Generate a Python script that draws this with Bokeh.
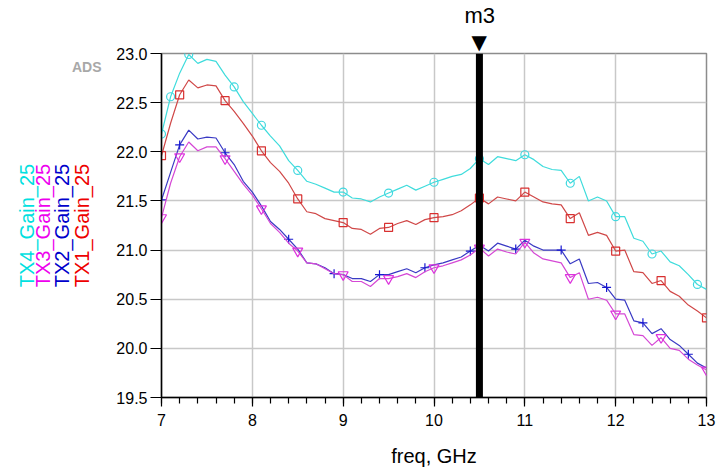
import math
from bokeh.plotting import figure
from bokeh.models import Span, Title, FixedTicker, Range1d, LinearAxis
from bokeh.embed import file_html
from bokeh.resources import INLINE

# ---------------- data ----------------
freq = [7.0, 7.1, 7.2, 7.3, 7.4, 7.5, 7.6, 7.7, 7.8, 7.9,
        8.0, 8.1, 8.2, 8.3, 8.4, 8.5, 8.6, 8.7, 8.8, 8.9,
        9.0, 9.1, 9.2, 9.3, 9.4, 9.5, 9.6, 9.7, 9.8, 9.9,
        10.0, 10.1, 10.2, 10.3, 10.4, 10.5, 10.6, 10.7, 10.8, 10.9,
        11.0, 11.1, 11.2, 11.3, 11.4, 11.5, 11.6, 11.7, 11.8, 11.9,
        12.0, 12.1, 12.2, 12.3, 12.4, 12.5, 12.6, 12.7, 12.8, 12.9, 13.0]

tx4_gain = [22.18, 22.56, 22.80, 22.99, 22.90, 22.94, 22.92, 22.78, 22.66, 22.51,
            22.39, 22.27, 22.16, 22.06, 21.91, 21.81, 21.70, 21.67, 21.63, 21.59,
            21.59, 21.53, 21.52, 21.49, 21.54, 21.58, 21.62, 21.66, 21.61, 21.65,
            21.69, 21.72, 21.75, 21.77, 21.83, 21.93, 21.87, 21.95, 21.93, 21.91,
            21.97, 21.92, 21.85, 21.82, 21.81, 21.68, 21.75, 21.50, 21.54, 21.50,
            21.34, 21.34, 21.12, 21.09, 20.96, 20.99, 20.88, 20.84, 20.75, 20.65, 20.60]

tx1_gain = [21.96, 22.29, 22.58, 22.73, 22.65, 22.68, 22.67, 22.52, 22.41, 22.29,
            22.16, 22.01, 21.89, 21.80, 21.68, 21.52, 21.39, 21.37, 21.32, 21.30,
            21.28, 21.22, 21.21, 21.16, 21.22, 21.23, 21.27, 21.30, 21.26, 21.31,
            21.33, 21.34, 21.36, 21.40, 21.46, 21.53, 21.47, 21.54, 21.52, 21.50,
            21.59, 21.54, 21.49, 21.47, 21.46, 21.32, 21.38, 21.15, 21.18, 21.15,
            20.99, 21.00, 20.78, 20.77, 20.66, 20.69, 20.58, 20.53, 20.44, 20.38, 20.31]

tx2_gain = [21.51, 21.79, 22.07, 22.22, 22.13, 22.15, 22.14, 21.99, 21.87, 21.70,
            21.59, 21.45, 21.29, 21.21, 21.11, 21.01, 20.87, 20.86, 20.82, 20.76,
            20.75, 20.71, 20.71, 20.68, 20.75, 20.75, 20.78, 20.81, 20.77, 20.82,
            20.85, 20.87, 20.90, 20.93, 20.99, 21.05, 20.99, 21.07, 21.04, 21.01,
            21.10, 21.04, 21.00, 21.00, 21.00, 20.86, 20.91, 20.66, 20.67, 20.62,
            20.50, 20.49, 20.28, 20.26, 20.15, 20.20, 20.09, 20.03, 19.94, 19.85, 19.80]

tx3_gain = [21.33, 21.68, 21.95, 22.10, 22.01, 22.05, 22.05, 21.93, 21.80, 21.67,
            21.56, 21.42, 21.27, 21.18, 21.07, 20.99, 20.87, 20.86, 20.81, 20.76,
            20.75, 20.68, 20.68, 20.63, 20.71, 20.71, 20.73, 20.76, 20.72, 20.78,
            20.82, 20.84, 20.87, 20.90, 20.95, 21.02, 20.94, 21.01, 20.98, 20.96,
            21.08, 20.97, 20.91, 20.89, 20.87, 20.72, 20.77, 20.50, 20.52, 20.49,
            20.35, 20.35, 20.14, 20.13, 20.03, 20.11, 20.00, 19.98, 19.89, 19.83, 19.78]

tx4_marks = [7.0, 7.1, 7.3, 7.8, 8.1, 8.5, 9.0, 9.5, 10.0, 10.5, 11.0, 11.5, 12.0, 12.4, 12.9]
tx1_marks = [7.0, 7.2, 7.7, 8.1, 8.5, 9.0, 9.5, 10.0, 10.5, 11.0, 11.5, 12.0, 12.5, 13.0]
tx2_marks = [7.0, 7.2, 7.7, 8.4, 8.9, 9.4, 9.9, 10.4, 10.9, 11.4, 11.9, 12.3, 12.8]
tx3_marks = [7.0, 7.2, 7.7, 8.1, 8.5, 9.0, 9.5, 10.0, 10.5, 11.0, 11.5, 12.0, 12.5, 13.0]

series_names = ["TX4_Gain_25", "TX3_Gain_25", "TX2_Gain_25", "TX1_Gain_25"]
x_ticks = [7, 8, 9, 10, 11, 12, 13]
x_tick_labels = ["7", "8", "9", "10", "11", "12", "13"]
y_ticks = [19.5, 20.0, 20.5, 21.0, 21.5, 22.0, 22.5, 23.0]
y_tick_labels = ["19.5", "20.0", "20.5", "21.0", "21.5", "22.0", "22.5", "23.0"]
marker_name = "m3"
marker_freq = 10.5
x_label = "freq, GHz"
logo_text = "ADS"

# ---------------- layout ----------------
W, H = 728, 471
FL, FR, FT, FB = 161, 706, 52, 397
X0, X1, Y0, Y1 = 7.0, 13.0, 19.5, 23.0
FONT = "Liberation Sans"

p = figure(width=W, height=H, output_backend="svg", toolbar_location=None, title=None,
           x_range=Range1d(X0, X1), y_range=Range1d(Y0, Y1),
           min_border_left=FL, min_border_right=W - FR,
           min_border_top=FT, min_border_bottom=H - FB)
p.background_fill_color = "white"
p.border_fill_color = "white"
p.outline_line_color = "#8c8c8c"
p.outline_line_width = 1.5

# grids
p.xgrid.ticker = FixedTicker(ticks=x_ticks)
p.ygrid.ticker = FixedTicker(ticks=y_ticks)
for g in (p.xgrid, p.ygrid):
    g.grid_line_color = "#c8c8c8"
    g.grid_line_width = 1.5

# the default frame-side axes are kept empty (1 px wide spacer); real axes are added next to them
for ax in (p.xaxis[0], p.yaxis[0]):
    ax.ticker = FixedTicker(ticks=[])
    ax.axis_line_color = None
    ax.major_tick_line_color = None
    ax.minor_tick_line_color = None
    ax.major_tick_out = 1
    ax.major_tick_in = 0
    ax.minor_tick_out = 0
    ax.minor_tick_in = 0
    ax.major_label_standoff = 0

# x axis
minor_x = [round(X0 + 0.2 * i, 1) for i in range(31)]
xax = LinearAxis(ticker=FixedTicker(ticks=x_ticks, minor_ticks=minor_x),
                 major_label_overrides={t: l for t, l in zip(x_ticks, x_tick_labels)},
                 axis_line_color="black", axis_line_width=1.5,
                 major_tick_line_color="black", minor_tick_line_color="black",
                 major_tick_line_width=1.2, minor_tick_line_width=1.2,
                 major_tick_out=9, major_tick_in=0, minor_tick_out=6, minor_tick_in=0,
                 major_label_text_font=FONT, major_label_text_font_size="16px",
                 major_label_text_color="black", major_label_standoff=7,
                 axis_label=x_label, axis_label_text_font=FONT,
                 axis_label_text_font_size="20px", axis_label_text_font_style="normal",
                 axis_label_text_color="black", axis_label_standoff=16)
p.add_layout(xax, "below")

# y axis
yax = LinearAxis(ticker=FixedTicker(ticks=y_ticks),
                 major_label_overrides={t: l for t, l in zip(y_ticks, y_tick_labels)},
                 axis_line_color="black", axis_line_width=1.5,
                 major_tick_line_color="black", major_tick_line_width=1.2,
                 major_tick_out=11, major_tick_in=0, minor_tick_out=0, minor_tick_in=0,
                 minor_tick_line_color=None,
                 major_label_text_font=FONT, major_label_text_font_size="16px",
                 major_label_text_color="black", major_label_standoff=3)
p.add_layout(yax, "left")

# logo position (in data units of the y scale) and extra left axes carrying the vertical legend
logo_y = Y1 - (66 - FT) * (Y1 - Y0) / (FB - FT)
legend_colors = ["#00e0e0", "#ee00ee", "#0000cc", "#ee0000"]


def legend_axis(name, color, standoff, ticks=(), overrides=None, lab_standoff=0):
    ax = LinearAxis(ticker=FixedTicker(ticks=list(ticks)),
                    major_label_overrides=overrides or {},
                    axis_line_color=None, major_tick_line_color=None, minor_tick_line_color=None,
                    major_tick_out=0, major_tick_in=0, minor_tick_out=0, minor_tick_in=0,
                    major_label_standoff=lab_standoff,
                    major_label_text_font=FONT, major_label_text_font_size="14px",
                    major_label_text_font_style="bold", major_label_text_color="#a8a8a8",
                    axis_label=name, axis_label_text_color=color,
                    axis_label_text_font=FONT, axis_label_text_font_size="20px",
                    axis_label_text_font_style="normal", axis_label_standoff=standoff)
    p.add_layout(ax, "left")


# nearest to the frame first
legend_axis(series_names[3], legend_colors[3], -24, ticks=[logo_y],
            overrides={logo_y: logo_text}, lab_standoff=12)
legend_axis(series_names[2], legend_colors[2], -5)
legend_axis(series_names[1], legend_colors[1], -6)
legend_axis(series_names[0], legend_colors[0], -9)

# series
line_colors = {"TX4": "#3fdcdc", "TX3": "#d548d5", "TX2": "#3a3ac4", "TX1": "#d04848"}
marker_colors = {"TX4": "#40d8e0", "TX3": "#dd33dd", "TX2": "#1818d0", "TX1": "#d83030"}
series = [
    ("TX4", tx4_gain, tx4_marks, "circle", 8),
    ("TX1", tx1_gain, tx1_marks, "square", 8),
    ("TX2", tx2_gain, tx2_marks, "cross", 9),
    ("TX3", tx3_gain, tx3_marks, "inverted_triangle", 10),
]
for key, vals, marks, mk, sz in series:
    p.line(freq, vals, line_color=line_colors[key], line_width=1.2)
    lookup = dict(zip(freq, vals))
    p.scatter([m for m in marks], [lookup[m] for m in marks], marker=mk, size=sz,
              fill_color=None, line_color=marker_colors[key], line_width=1.2)

# marker m3: bar + triangle + name
p.add_layout(Span(location=marker_freq, dimension="height", line_color="black", line_width=7))
mpx = FL + (marker_freq - X0) * (FR - FL) / (X1 - X0)
tri = Title(text="\u25bc", align="left", offset=mpx - FL - 8, standoff=0,
            text_font="DejaVu Sans", text_font_size="20px", text_font_style="normal",
            text_color="black")
p.add_layout(tri, "above")
name = Title(text=marker_name, align="left", offset=mpx - FL - 15, standoff=0,
             text_font=FONT, text_font_size="22px", text_font_style="normal",
             text_color="black")
p.add_layout(name, "above")

open("out.html", "w").write(file_html(p, INLINE))
